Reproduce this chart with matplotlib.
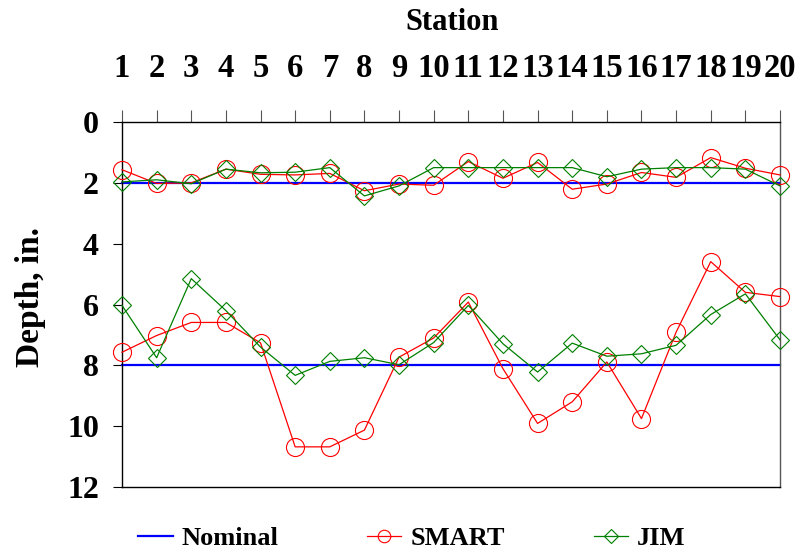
import matplotlib
matplotlib.use("Agg")
import matplotlib.pyplot as plt
from matplotlib.lines import Line2D

plt.rcParams['font.family'] = ['Liberation Serif', 'DejaVu Serif']
plt.rcParams['font.weight'] = 'bold'

stations = list(range(1, 21))

# Nominal depths (upper and lower layers)
nominal_upper = [2] * 20
nominal_lower = [8] * 20

smart_upper = [1.57, 2.02, 2.0, 1.55, 1.72, 1.74, 1.69, 2.26, 2.04, 2.08,
               1.3, 1.85, 1.33, 2.21, 2.04, 1.66, 1.82, 1.17, 1.52, 1.74]
jim_upper = [1.97, 1.9, 2.03, 1.55, 1.67, 1.65, 1.5, 2.43, 2.1, 1.5,
             1.5, 1.5, 1.5, 1.5, 1.8, 1.55, 1.5, 1.5, 1.55, 2.1]

smart_lower = [7.57, 7.02, 6.59, 6.59, 7.26, 10.68, 10.68, 10.13, 7.73, 7.1,
               5.92, 8.11, 9.91, 9.2, 7.89, 9.75, 6.91, 4.59, 5.6, 5.74]
jim_lower = [6.03, 7.75, 5.15, 6.2, 7.4, 8.33, 7.87, 7.75, 7.98, 7.25,
             6.03, 7.29, 8.22, 7.27, 7.7, 7.62, 7.34, 6.33, 5.65, 7.16]

yticks = [0, 2, 4, 6, 8, 10, 12]

BLUE = '#0000FF'
RED = '#FF0000'
GREEN = '#008000'

fig = plt.figure(figsize=(8.01, 5.54), dpi=100)
ax = fig.add_axes([122 / 801, 1 - 487 / 554, 658 / 801, 365 / 554])

for nom in (nominal_upper, nominal_lower):
    ax.plot(stations, nom, color=BLUE, lw=1.6, zorder=2, clip_on=False)

for sm in (smart_upper, smart_lower):
    ax.plot(stations, sm, color=RED, lw=0.9, marker='o', ms=13,
            mfc='none', mec=RED, mew=0.8, zorder=3, clip_on=False)

for jm in (jim_upper, jim_lower):
    ax.plot(stations, jm, color=GREEN, lw=0.9, marker='D', ms=9.2,
            mfc='none', mec=GREEN, mew=0.8, zorder=4, clip_on=False)

ax.set_xlim(1, 20)
ax.set_ylim(12, 0)
ax.set_yticks(yticks)
ax.set_xticks(stations)

ax.xaxis.tick_top()
ax.tick_params(axis='x', direction='out', length=8.5, width=0.8, color='#555555',
               pad=19, labelsize=23.5)
ax.tick_params(axis='y', direction='out', length=6.5, width=0.8, color='black',
               pad=10, labelsize=23)
for lab in ax.get_xticklabels() + ax.get_yticklabels():
    lab.set_fontweight('bold')

for side in ('top', 'left', 'bottom'):
    ax.spines[side].set_color('black')
    ax.spines[side].set_linewidth(1.0)
ax.spines['right'].set_color('#555555')
ax.spines['right'].set_linewidth(1.0)

fig.text(452 / 801, 1 - 22 / 554, 'Station', ha='center', va='center',
         fontsize=22, fontweight='bold')
fig.text(31 / 801, 1 - 297 / 554, 'Depth, in.', ha='center', va='center',
         rotation=90, fontsize=24, fontweight='bold')

handles = [
    Line2D([], [], color=BLUE, lw=1.6),
    Line2D([], [], color=RED, lw=0.9, marker='o', ms=9, mfc='none', mec=RED, mew=0.8),
    Line2D([], [], color=GREEN, lw=0.9, marker='D', ms=7, mfc='none', mec=GREEN, mew=0.8),
]
fig.legend(handles, ['Nominal', 'SMART', 'JIM'], loc='center',
           bbox_to_anchor=(412 / 801, 1 - 538 / 554), ncol=3, frameon=False,
           prop={'size': 19, 'weight': 'bold'}, handlelength=1.3,
           handletextpad=0.35, columnspacing=3.35, borderpad=0, borderaxespad=0)

fig.savefig('out.png', dpi=100)
